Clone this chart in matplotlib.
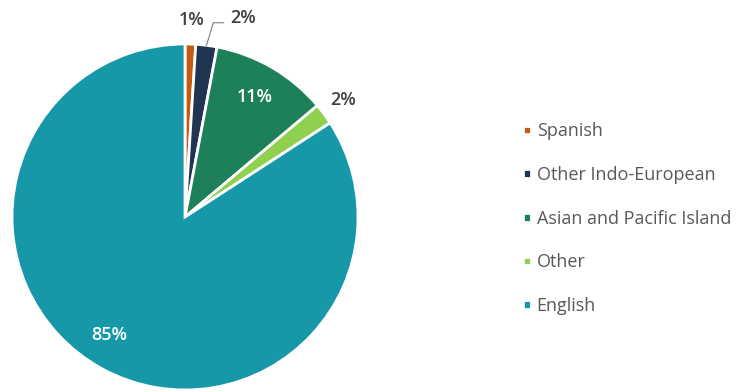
import numpy as np
import matplotlib
matplotlib.use('Agg')
import matplotlib.pyplot as plt

plt.rcParams['font.family'] = ['Open Sans', 'DejaVu Sans']

# language spoken at home
languages = ['Spanish', 'Other Indo-European', 'Asian and Pacific Island', 'Other', 'English']
shares = [1, 2, 11, 2, 85]
colors = ['#C55A11', '#1F3552', '#1E8059', '#8FD14F', '#1798A8']

fig = plt.figure(figsize=(7.55, 3.92), dpi=100)
ax = fig.add_axes([0.0159, 0.0051, 0.4583, 0.8827])

wedges, _ = ax.pie(shares, colors=colors, startangle=90, counterclock=False,
                   wedgeprops=dict(edgecolor='white', linewidth=2))
ax.set_aspect('equal')
ax.set_xlim(-1, 1)
ax.set_ylim(-1, 1)

# label placement: (radius, angle offset, colour)
label_pos = [(1.14, 0, '#404040'), (1.20, -9, '#404040'), (0.80, 0, 'white'),
             (1.14, 0, '#404040'), (0.81, -4, 'white')]
for i, (w, val, (r, off, c)) in enumerate(zip(wedges, shares, label_pos)):
    ang = np.deg2rad((w.theta1 + w.theta2) / 2 + off)
    x, y = r * np.cos(ang), r * np.sin(ang)
    ax.text(x, y, f'{val}%', ha='center', va='center', fontsize=13,
            color=c, fontweight='semibold')
    if i == 1:
        # leader line for the thin slice
        mid = np.deg2rad((w.theta1 + w.theta2) / 2)
        ax.plot([np.cos(mid), x - 0.17, x - 0.11],
                [np.sin(mid), y - 0.03, y - 0.03], color='#808080', lw=0.8,
                clip_on=False)

leg = fig.legend(wedges, languages, loc='center left', bbox_to_anchor=(0.681, 0.442),
                 frameon=False, fontsize=13, handlelength=0.45, handleheight=0.35,
                 handletextpad=0.3, labelspacing=1.42, borderpad=0)
for t in leg.get_texts():
    t.set_color('#595959')

fig.savefig('out.png', dpi=100)
